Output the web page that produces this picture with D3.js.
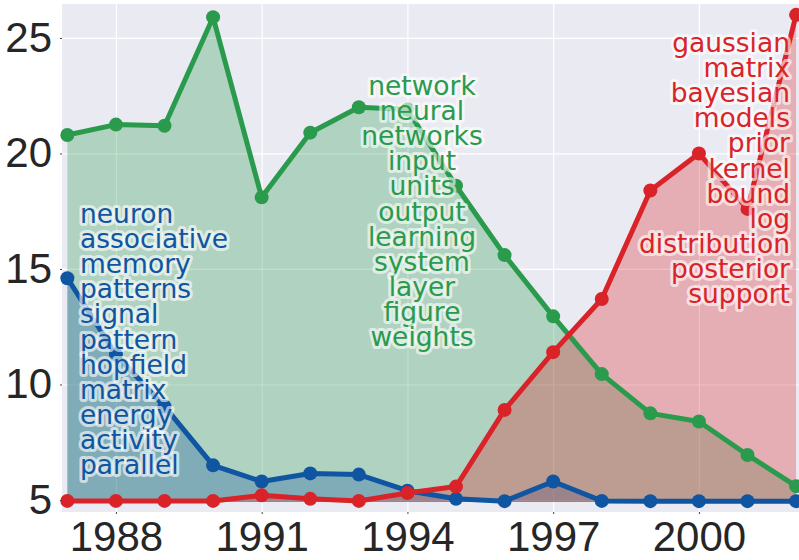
<!DOCTYPE html>
<html>
<head>
<meta charset="utf-8">
<script src="https://cdn.jsdelivr.net/npm/d3@7"></script>
<style>
  html, body { margin: 0; padding: 0; background: #fff; }
  #vis { width: 799px; height: 560px; }
  .tick text { font-family: "Liberation Sans", sans-serif; font-size: 42px; fill: #262626; }
  .words { font-family: "DejaVu Sans", sans-serif; font-size: 26.5px; paint-order: stroke; stroke: #fff; stroke-opacity: 0.6; stroke-width: 6px; stroke-linejoin: round; }
</style>
</head>
<body>
<div id="vis"></div>
<script>
// data
var years = [1987, 1988, 1989, 1990, 1991, 1992, 1993, 1994, 1995, 1996, 1997, 1998, 1999, 2000, 2001, 2002];
var greenValues = [20.8, 21.25, 21.2, 25.9, 18.1, 20.9, 22.0, 21.9, 18.6, 15.6, 12.95, 10.45, 8.75, 8.4, 6.95, 5.6];
var blueValues = [14.6, 11.3, 9.05, 6.5, 5.8, 6.15, 6.1, 5.4, 5.05, 4.95, 5.8, 4.96, 4.95, 4.95, 4.95, 4.95];
var redValues = [4.96, 4.96, 4.96, 4.96, 5.2, 5.05, 4.96, 5.3, 5.58, 8.9, 11.4, 13.7, 18.4, 20.0, 17.6, 26.0];
var greenWords = ["network", "neural", "networks", "input", "units", "output", "learning", "system", "layer", "figure", "weights"];
var blueWords = ["neuron", "associative", "memory", "patterns", "signal", "pattern", "hopfield", "matrix", "energy", "activity", "parallel"];
var redWords = ["gaussian", "matrix", "bayesian", "models", "prior", "kernel", "bound", "log", "distribution", "posterior", "support"];
var xTicks = [1988, 1991, 1994, 1997, 2000];
var yTicks = [5, 10, 15, 20, 25];

var width = 799, height = 560;
var margin = { top: 4, right: 0, bottom: 48, left: 62 };

var svg = d3.select('#vis')
    .append('svg')
    .attr('width', width)
    .attr('height', height)
    .append('g')
    .attr('transform', 'translate(' + margin.left + ',' + margin.top + ')');

width = width - margin.left - margin.right;
height = height - margin.top - margin.bottom;

var x_scale = d3.scaleLinear().domain([1986.89, 2002.06]).range([0, width]);
var y_scale = d3.scaleLinear().domain([4.48, 26.47]).range([height, 0]);

svg.append('rect')
    .attr('width', width)
    .attr('height', height)
    .attr('fill', '#eaeaf2');

// grid
svg.append('g')
    .attr('transform', 'translate(0,' + height + ')')
    .call(d3.axisBottom(x_scale).tickValues(xTicks).tickSize(-height).tickFormat(''))
    .call(function(g) { g.select('.domain').remove(); })
    .selectAll('line').attr('stroke', '#fff').attr('stroke-width', 1.2);
svg.append('g')
    .call(d3.axisLeft(y_scale).tickValues(yTicks).tickSize(-width).tickFormat(''))
    .call(function(g) { g.select('.domain').remove(); })
    .selectAll('line').attr('stroke', '#fff').attr('stroke-width', 1.2);

var allValues = greenValues.concat(blueValues, redValues);
var base = d3.min(allValues) - 0.04;

var series = [
    { values: greenValues, colour: '#2a9a4c' },
    { values: blueValues, colour: '#0f55a1' },
    { values: redValues, colour: '#d92328' }
];

var plot = svg.append('g');

var area = d3.area()
    .x(function(d, i) { return x_scale(years[i]); })
    .y0(y_scale(base))
    .y1(function(d) { return y_scale(d); });
var line = d3.line()
    .x(function(d, i) { return x_scale(years[i]); })
    .y(function(d) { return y_scale(d); });

series.forEach(function(s) {
    plot.append('path')
        .datum(s.values)
        .attr('d', area)
        .attr('fill', s.colour)
        .attr('fill-opacity', 0.3);
});

series.forEach(function(s) {
    plot.append('path')
        .datum(s.values)
        .attr('d', line)
        .attr('fill', 'none')
        .attr('stroke', s.colour)
        .attr('stroke-width', 5)
        .attr('stroke-linejoin', 'round');
    plot.selectAll(null)
        .data(s.values)
        .enter()
        .append('circle')
        .attr('cx', function(d, i) { return x_scale(years[i]); })
        .attr('cy', function(d) { return y_scale(d); })
        .attr('r', 7)
        .attr('fill', s.colour);
});

// axes
var x_axis = svg.append('g')
    .attr('transform', 'translate(0,' + height + ')')
    .call(d3.axisBottom(x_scale).tickValues(xTicks).tickFormat(d3.format('d')).tickSize(2).tickPadding(7));
var y_axis = svg.append('g')
    .call(d3.axisLeft(y_scale).tickValues(yTicks).tickSize(2).tickPadding(8));
[x_axis, y_axis].forEach(function(g) {
    g.select('.domain').remove();
    g.selectAll('.tick line').attr('stroke', '#444');
});

// word lists
function words(list, colour, xpos, y0, anchor) {
    svg.append('g')
        .selectAll('text')
        .data(list)
        .enter()
        .append('text')
        .attr('class', 'words')
        .attr('x', xpos)
        .attr('y', function(d, i) { return y0 + i * 25.1; })
        .attr('text-anchor', anchor)
        .attr('fill', colour)
        .text(function(d) { return d; });
}
words(greenWords, '#2a9a4c', 422 - margin.left, 95 - margin.top, 'middle');
words(blueWords, '#0f55a1', 80 - margin.left, 223 - margin.top, 'start');
words(redWords, '#d92328', 790 - margin.left, 52 - margin.top, 'end');
</script>
</body>
</html>
